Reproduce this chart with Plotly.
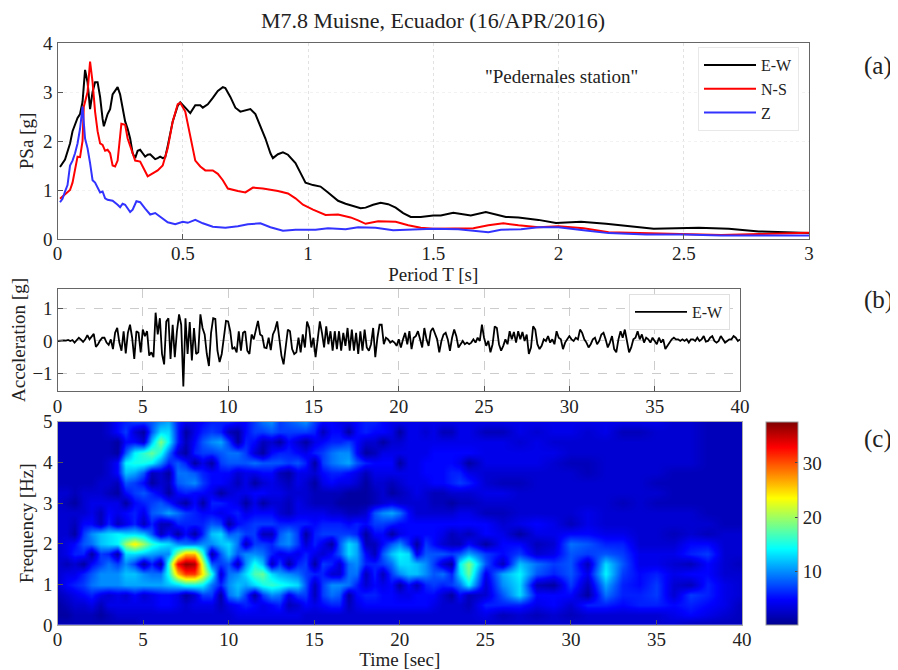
import plotly.graph_objects as go

# ---------- (a) response spectra ----------
ew_T = [0.01,0.03,0.05,0.06,0.08,0.09,0.10,0.11,0.12,0.13,0.14,0.15,0.16,0.17,0.18,0.185,0.20,0.21,0.22,0.23,0.24,0.25,0.26,0.27,0.28,0.29,0.30,0.31,0.32,0.33,0.34,0.35,0.36,0.37,0.38,0.39,0.40,0.41,0.42,0.43,0.44,0.46,0.48,0.49,0.51,0.53,0.55,0.57,0.58,0.60,0.62,0.64,0.66,0.67,0.69,0.71,0.73,0.75,0.77,0.79,0.81,0.83,0.85,0.86,0.88,0.90,0.92,0.95,0.97,0.99,1.02,1.05,1.08,1.12,1.15,1.18,1.21,1.23,1.26,1.29,1.32,1.35,1.38,1.41,1.45,1.50,1.53,1.58,1.65,1.71,1.79,1.84,1.92,1.99,2.09,2.19,2.38,2.56,2.68,2.80,3.00]
ew_v = [1.47,1.62,1.95,2.2,2.47,2.55,2.8,3.45,3.2,2.65,3.0,3.2,3.2,2.9,2.45,2.3,2.55,2.65,2.95,3.02,3.1,2.95,2.7,2.4,2.25,2.05,1.75,1.65,1.8,1.82,1.75,1.68,1.72,1.73,1.68,1.63,1.65,1.68,1.65,1.67,1.9,2.4,2.72,2.79,2.68,2.57,2.73,2.73,2.68,2.75,2.88,3.02,3.1,3.08,2.9,2.68,2.6,2.62,2.65,2.55,2.3,2.05,1.75,1.65,1.73,1.77,1.72,1.55,1.35,1.15,1.1,1.07,0.95,0.78,0.72,0.68,0.63,0.64,0.7,0.74,0.71,0.64,0.53,0.45,0.45,0.48,0.48,0.535,0.48,0.55,0.45,0.44,0.39,0.325,0.35,0.31,0.21,0.23,0.21,0.155,0.12]
ns_T = [0.01,0.03,0.05,0.06,0.07,0.08,0.09,0.10,0.105,0.115,0.12,0.13,0.14,0.15,0.16,0.17,0.18,0.19,0.20,0.21,0.22,0.23,0.24,0.25,0.255,0.27,0.28,0.30,0.31,0.33,0.35,0.36,0.40,0.42,0.44,0.46,0.48,0.49,0.51,0.53,0.55,0.57,0.59,0.62,0.64,0.66,0.68,0.72,0.75,0.78,0.82,0.88,0.92,0.95,0.98,1.02,1.07,1.12,1.17,1.20,1.23,1.28,1.35,1.40,1.45,1.50,1.60,1.66,1.72,1.78,1.84,1.92,2.00,2.10,2.20,2.35,2.50,2.65,2.80,3.00]
ns_v = [0.82,0.92,1.0,1.15,1.45,1.68,1.67,2.0,2.7,2.95,3.0,3.62,3.2,2.6,2.2,1.95,1.92,1.8,1.82,1.75,1.5,1.48,1.6,2.1,2.35,2.33,2.05,1.75,1.6,1.58,1.4,1.28,1.4,1.5,1.85,2.4,2.75,2.78,2.6,2.1,1.6,1.48,1.4,1.4,1.33,1.2,1.03,0.98,0.95,1.05,1.03,0.98,0.93,0.83,0.7,0.6,0.49,0.5,0.44,0.38,0.31,0.36,0.35,0.28,0.23,0.21,0.21,0.22,0.28,0.32,0.28,0.24,0.26,0.22,0.14,0.12,0.1,0.08,0.1,0.13]
z_T = [0.01,0.02,0.03,0.04,0.05,0.06,0.07,0.08,0.09,0.10,0.11,0.12,0.13,0.14,0.15,0.16,0.17,0.18,0.19,0.20,0.22,0.24,0.25,0.26,0.27,0.29,0.30,0.315,0.33,0.35,0.37,0.39,0.42,0.44,0.47,0.50,0.52,0.55,0.58,0.62,0.67,0.72,0.76,0.81,0.85,0.90,0.95,1.03,1.08,1.15,1.20,1.27,1.34,1.45,1.50,1.60,1.66,1.72,1.77,1.85,1.92,2.00,2.10,2.20,2.35,2.50,2.65,2.80,3.00]
z_v = [0.75,0.82,0.97,1.1,1.5,1.6,1.75,1.95,2.25,2.7,2.05,1.85,1.55,1.2,1.15,1.05,0.95,0.97,0.83,0.8,0.78,0.7,0.65,0.72,0.7,0.55,0.6,0.77,0.75,0.62,0.5,0.53,0.42,0.34,0.3,0.35,0.33,0.39,0.32,0.25,0.23,0.26,0.3,0.32,0.24,0.17,0.19,0.19,0.22,0.2,0.24,0.23,0.18,0.2,0.21,0.2,0.17,0.14,0.19,0.2,0.24,0.24,0.18,0.12,0.09,0.09,0.07,0.07,0.07]

# ---------- (b) acceleration, one row per second, 8 samples per second ----------
accel_dt = 0.125
accel_rows = [
 [.00,.01,.03,.02,.01,.03,.00,.03],[-.05,.03,.10,.04,-.03,.05,.18,.05],
 [.12,.22,-.18,-.10,.02,.10,.10,-.05],[-.12,.05,-.25,.25,.40,-.05,-.30,.30],
 [-.38,.25,.50,.10,-.55,.30,.25,-.35],[.35,.15,.30,-.45,-.35,-.50,.87,.20],
 [.70,-.40,-.72,.60,.70,-.55,.50,-.50],[.30,.82,.50,-1.40,.70,-.40,.58,-.60],
 [.40,-.40,-.35,.82,.40,.20,-.40,-.77],[.25,.70,.68,-.30,-.65,-.40,.10,.62],
 [.60,.30,-.25,-.20,-.35,.30,-.30,.25],[.30,-.30,-.40,.20,.05,.35,.62,.20],
 [.15,-.20,-.22,.10,-.28,.20,.35,.60],[.10,-.45,-.72,-.10,.35,.30,-.25,-.40],
 [-.35,.10,-.35,.20,-.20,.60,.40,-.20],[.10,-.50,.10,.60,.25,-.20,.45,-.10],
 [.30,-.30,.30,-.25,.30,-.30,.25,-.15],[.40,-.30,.35,-.30,.25,-.40,.30,-.30],
 [.35,-.20,-.30,-.10,.40,-.50,.10,.50],[.50,-.10,.10,.05,-.05,.00,-.05,-.15],
 [.05,-.20,.05,.25,-.10,.30,-.25,.10],[.15,.30,.05,-.20,.40,.05,-.15,.30],
 [.40,.20,.05,-.35,.00,.20,.25,.05],[-.30,.10,.35,.15,-.20,-.10,.00,-.10],
 [-.05,-.10,-.05,.05,-.05,.10,.00,.50],[.10,-.15,.00,-.35,-.10,.45,.40,-.10],
 [-.30,-.15,.05,-.10,.30,.05,.28,-.05],[.30,.05,.28,.00,.20,-.40,-.20,.45],
 [.35,-.10,-.25,-.15,.05,.00,.15,-.05],[.05,-.10,.30,.10,.05,-.25,-.05,.05],
 [.15,.05,.00,.10,.05,.35,.25,.05],[-.05,-.20,-.10,.05,.10,-.10,.00,.20],
 [.25,.05,-.20,-.05,.15,-.25,-.35,.05],[.30,.10,.35,.00,-.35,-.20,.05,.10],
 [.30,.05,.20,-.05,.10,.05,-.05,.10],[.00,-.10,.10,-.05,.05,-.25,-.15,-.05],
 [.05,.10,.05,.05,.00,.05,.00,.05],[-.05,.05,.05,.00,.10,.00,.05,.15],
 [-.02,.00,.10,.15,.00,-.05,.00,.15],[.05,-.05,.00,.05,.05,.15,.10,.00],[.05],
]
accel_v = [v for row in accel_rows for v in row]
accel_t = [i * accel_dt for i in range(len(accel_v))]

# ---------- (c) spectrogram ----------
spec_t = [0,.5,1,1.5,2,2.5,3,3.5,4,4.5, 5,5.5,6,6.5,7,7.5,8,8.5,9,9.5, 10,10.5,11,11.5,12,12.5,13,13.5,14,14.5,
          15,15.5,16,16.5,17,17.5,18,18.5,19,19.5, 20,20.5,21,21.5,22,22.5,23,23.5,24,
          25,26,27,28,29,30,31,32,33,34,35,36,37,38,39,40]
spec_f = [0,.25,.5,.75,1,1.25,1.5,1.75,2,2.25,2.5,2.75,3,3.25,3.5,3.75,4,4.25,4.5,4.75,5]
spec_z = [
 [2,2,2,2,2,2,2,2,2,2, 3,3,3,3,3,3,3,3,3,3, 3,3,3,3,3,3,3,3,3,3, 3,3,3,3,3,3,3,3,3,3, 3,3,3,3,3,3,3,3,3, 3,3,3,3,3,3,3,3,3,3,3,3,2,2,2,2],
 [1,1,2,2,2,1,2,3,3,3, 3,3,3,3,3,3,3,3,3,3, 3,4,4,4,4,4,4,4,4,3, 3,3,3,3,3,3,3,3,3,3, 3,3,3,3,3,3,3,3,3, 4,2,3,2,3,2,3,3,3,3,3,4,5,4,3,2],
 [1,2,3,3,4,2,4,4,4,4, 4,4,5,5,4,3,4,4,4,2, 4,5,6,5,4,5,6,2,3,5, 4,5,6,6,2,4,5,5,5,5, 5,5,5,5,4,3,3,3,2, 6,6,6,4,5,3,6,6,5,6,6,5,6,5,4,2],
 [2,3,4,5,6,4,3,4,3,5, 3,4,5,5,4,1,3,7,7,1, 9,11,7,1,7,10,9,4,7,7, 2,7,9,8,1,5,6,6,5,5, 4,4,5,5,5,3,1,5,2, 3,8,13,5,5,5,1,9,6,6,7,3,7,6,4,3],
 [3,5,6,7,9,10,10,10,11,11, 11,11,11,12,13,15,15,14,9,6, 10,12,11,13,15,16,15,14,13,8, 2,7,10,10,9,6,3,5,4,5, 1,5,2,6,7,6,7,9,14, 3,10,13,2,1,7,2,11,6,5,7,3,2,6,4,3],
 [3,4,4,6,8,10,10,10,12,12, 10,9,9,15,26,31,31,24,15,3, 9,10,13,17,18,13,11,10,9,7, 6,6,3,3,9,9,2,6,2,7, 10,12,12,10,8,9,6,13,18, 4,11,14,8,6,8,4,14,7,5,6,4,5,5,3,3],
 [3,2,3,1,5,7,9,7,10,7, 1,6,1,16,33,37,36,22,8,7, 8,2,10,15,12,2,7,1,6,7, 1,7,6,3,9,10,6,6,7,9, 13,13,12,10,7,3,1,14,19, 8,2,12,9,7,8,2,13,8,4,4,3,2,5,3,2],
 [3,4,6,6,1,7,6,1,13,13, 12,11,10,10,20,26,26,16,1,8, 12,8,10,10,9,6,4,5,4,6, 4,3,5,8,13,11,5,2,8,12, 14,13,4,8,8,8,7,8,11, 7,5,7,3,4,8,7,8,7,4,4,4,6,7,3,3],
 [3,4,5,8,9,12,13,14,20,24, 20,16,14,13,10,9,9,10,10,12, 13,9,2,7,7,6,9,10,7,3, 6,4,1,8,13,11,2,2,5,8, 10,6,1,7,5,3,2,2,5, 1,5,5,2,3,9,8,6,6,3,3,3,5,5,3,3],
 [3,3,1,7,10,12,13,14,13,13, 12,8,2,5,1,5,1,6,12,13, 8,9,7,7,2,2,8,10,7,1, 6,7,7,7,7,6,1,5,5,1, 4,5,5,5,5,4,2,3,2, 5,4,1,4,4,5,5,4,4,3,3,2,3,2,3,3],
 [3,3,2,5,5,2,6,2,4,6, 2,6,2,2,6,6,6,6,8,7, 1,5,6,7,7,7,6,6,6,6, 5,6,6,6,5,6,5,7,7,6, 5,5,5,5,5,5,5,5,5, 5,3,4,5,4,2,4,3,3,3,3,3,3,3,2,2],
 [3,3,3,3,4,2,5,4,5,6, 4,8,9,11,9,7,6,5,5,4, 5,6,4,5,5,5,3,2,4,4, 4,4,3,3,2,2,3,8,10,11, 9,5,3,3,3,3,3,4,4, 2,2,3,3,3,3,4,3,3,3,3,3,3,2,2,2],
 [3,2,1,3,4,4,4,4,1,5, 6,7,8,6,3,1,5,1,6,6, 5,4,1,4,1,3,3,2,4,3, 2,2,2,1,1,1,1,2,3,4, 3,3,3,3,2,2,1,2,2, 3,3,3,3,3,3,3,3,2,3,2,2,2,2,2,2],
 [3,3,2,3,3,3,2,1,5,7, 8,6,4,1,5,6,5,5,4,1, 3,4,4,5,5,4,4,3,3,3, 2,2,2,2,1,1,1,2,3,1, 2,3,4,3,2,2,3,3,3, 4,4,3,3,3,3,3,3,3,3,3,2,2,2,2,2],
 [2,2,2,2,2,3,3,2,8,7, 5,1,3,2,8,9,10,7,5,5, 4,2,4,1,3,4,3,2,4,3, 1,4,5,4,4,3,1,3,3,2, 3,4,4,4,5,5,6,7,6, 3,2,2,3,3,3,3,3,3,3,2,2,2,2,2,2],
 [2,2,2,2,2,2,3,5,12,11, 8,2,3,1,9,9,8,6,5,5, 5,3,4,4,5,5,2,1,4,4, 3,5,6,6,5,4,2,4,4,4, 4,4,4,5,5,5,6,6,4, 3,3,3,3,3,3,2,3,3,3,3,2,2,2,2,2],
 [2,2,2,2,2,2,3,5,14,15, 15,14,10,6,8,6,1,4,1,7, 8,8,8,9,8,8,8,7,8,6, 1,7,9,10,11,8,6,5,5,5, 1,4,4,5,5,5,5,4,1, 4,4,4,4,3,2,2,3,3,3,3,3,3,2,2,2],
 [2,2,2,2,2,2,2,1,8,14, 16,18,15,9,3,1,6,7,7,8, 9,9,7,3,1,5,6,6,5,4, 6,7,9,10,10,5,1,2,4,4, 4,4,4,4,5,5,5,5,5, 4,4,4,4,4,3,3,3,3,3,3,3,3,2,2,2],
 [2,2,2,2,2,2,2,1,5,5, 3,12,19,14,6,2,5,8,10,11, 7,1,6,5,2,3,1,5,3,1, 4,5,6,6,7,5,3,3,1,3, 3,4,4,4,4,4,4,4,4, 4,4,3,4,3,3,3,3,3,3,3,3,3,2,2,2],
 [2,2,2,2,2,2,3,5,7,3, 1,8,13,13,6,1,4,6,7,6, 2,1,5,7,7,8,7,7,7,7, 6,2,5,5,1,5,6,5,5,4, 1,4,4,3,4,2,2,4,4, 2,2,4,3,4,4,3,4,2,2,3,3,3,2,2,2],
 [2,2,2,2,2,2,3,5,6,7, 7,8,10,11,6,4,4,5,6,6, 6,5,5,7,9,10,7,8,9,10, 7,5,5,4,4,5,6,6,5,4, 4,4,4,4,4,4,4,4,4, 4,4,4,4,4,4,4,4,4,4,4,3,3,2,2,2],
]
assert len(spec_t) == 65 and len(spec_z) == 21
for i, r in enumerate(spec_z):
    assert len(r) == 65, (i, len(r))
assert len(ew_T) == len(ew_v) and len(ns_T) == len(ns_v) and len(z_T) == len(z_v)

# The page's body has an 8 px margin, so the figure is 8 px smaller and every
# reference position below is shifted by that margin.
OFF = 8
W, H = 898 - OFF, 670 - OFF
def fx(p): return (p - OFF) / W
def fy(p): return 1 - (p - OFF) / H
def dx(a, b): return [fx(a), fx(b)]
def dy(top, bottom): return [fy(bottom), fy(top)]

SERIF = "Liberation Serif"
AX = "#666666"
TXT = "#222222"
jet = [[0, "#00008f"], [0.125, "#0000ff"], [0.375, "#00ffff"],
       [0.625, "#ffff00"], [0.875, "#ff0000"], [1, "#800000"]]
def tfont(size): return dict(family=SERIF, size=size, color=TXT)

fig = go.Figure()
fig.add_trace(go.Scatter(x=ew_T, y=ew_v, name="E-W", mode="lines", line=dict(color="#000000", width=2), xaxis="x", yaxis="y", legend="legend"))
fig.add_trace(go.Scatter(x=ns_T, y=ns_v, name="N-S", mode="lines", line=dict(color="#ff0000", width=2), xaxis="x", yaxis="y", legend="legend"))
fig.add_trace(go.Scatter(x=z_T, y=z_v, name="Z", mode="lines", line=dict(color="#3333ff", width=2), xaxis="x", yaxis="y", legend="legend"))
fig.add_trace(go.Scatter(x=accel_t, y=accel_v, name="E-W", mode="lines", line=dict(color="#000000", width=1.8), xaxis="x2", yaxis="y2", legend="legend2"))
fig.add_trace(go.Heatmap(x=spec_t, y=spec_f, z=spec_z, zsmooth="best", colorscale=jet, zmin=0.2, zmax=37.6,
    xaxis="x3", yaxis="y3", showlegend=False,
    colorbar=dict(x=fx(765.7), xanchor="left", xpad=0, ypad=0, y=fy(421.7), yanchor="top",
                  len=203.3 / H, lenmode="fraction", thickness=32, thicknessmode="pixels",
                  tickvals=[10, 20, 30], ticks="inside", ticklen=3, tickcolor="#444",
                  outlinecolor="#999", outlinewidth=1, tickfont=tfont(19))))

def axis(**kw):
    base = dict(showline=True, linecolor=AX, linewidth=1.2, mirror=True, ticks="inside", ticklen=5,
                tickcolor="#555", zeroline=False, tickfont=tfont(19), automargin=False)
    base.update(kw)
    return base

fig.update_layout(
    width=W, height=H, autosize=False, paper_bgcolor="white", plot_bgcolor="white",
    margin=dict(l=0, r=0, t=0, b=0),
    font=dict(family=SERIF, color=TXT),
    title=dict(text="M7.8 Muisne, Ecuador (16/APR/2016)", x=fx(433), xanchor="center", y=fy(20), yanchor="middle", font=tfont(22)),
    xaxis=axis(domain=dx(57.5, 809), range=[0, 3], tickvals=[0, .5, 1, 1.5, 2, 2.5, 3], ticktext=["0", "0.5", "1", "1.5", "2", "2.5", "3"],
               showgrid=True, gridcolor="#e2e2e2", griddash="dot", anchor="y", ticklabelstandoff=-3,
               title=dict(text="Period T [s]", standoff=2, font=tfont(19))),
    yaxis=axis(domain=dy(43, 239), range=[0, 4], tickvals=[0, 1, 2, 3, 4], showgrid=True, gridcolor="#f2f2f2", griddash="dot", anchor="x",
               title=dict(text="PSa [g]", standoff=4, font=tfont(19))),
    xaxis2=axis(domain=dx(57.5, 740), range=[0, 40], tickvals=list(range(0, 41, 5)), showgrid=True, gridcolor="#cccccc", griddash="dash", anchor="y2", ticklabelstandoff=-2),
    yaxis2=axis(domain=dy(289.3, 390.7), range=[-1.53, 1.59], tickvals=[-1, 0, 1], showgrid=True, gridcolor="#cccccc", griddash="dash", anchor="x2",
                title=dict(text="Acceleration [g]", standoff=4, font=tfont(19))),
    xaxis3=axis(domain=dx(57.5, 742), range=[0, 40], tickvals=list(range(0, 41, 5)), anchor="y3", linecolor="#aaaaaa", showgrid=False, ticklabelstandoff=-3,
                title=dict(text="Time [sec]", standoff=4, font=tfont(19))),
    yaxis3=axis(domain=dy(421.7, 625), range=[0, 5], tickvals=[0, 1, 2, 3, 4, 5], anchor="x3", linecolor="#aaaaaa", showgrid=False,
                title=dict(text="Frequency [Hz]", standoff=4, font=tfont(19))),
    legend=dict(x=fx(698), xanchor="left", y=fy(47), yanchor="top", bgcolor="white", bordercolor="#e8e8e8", borderwidth=1,
                itemwidth=52, font=tfont(16), tracegroupgap=0),
    legend2=dict(x=fx(629), xanchor="left", y=fy(294), yanchor="top", bgcolor="white", bordercolor="#e0e0e0", borderwidth=1,
                 itemwidth=52, font=tfont(16)),
    annotations=[
        dict(text='"Pedernales station"', xref="paper", yref="paper", x=fx(561), y=fy(77), showarrow=False,
             font=tfont(19), xanchor="center", yanchor="middle"),
        dict(text="(a)", xref="paper", yref="paper", x=fx(878), y=fy(66), showarrow=False,
             font=tfont(25), xanchor="center", yanchor="middle"),
        dict(text="(b)", xref="paper", yref="paper", x=fx(878), y=fy(300), showarrow=False,
             font=tfont(25), xanchor="center", yanchor="middle"),
        dict(text="(c)", xref="paper", yref="paper", x=fx(878), y=fy(439), showarrow=False,
             font=tfont(25), xanchor="center", yanchor="middle"),
    ],
)
fig.write_html("out.html")
